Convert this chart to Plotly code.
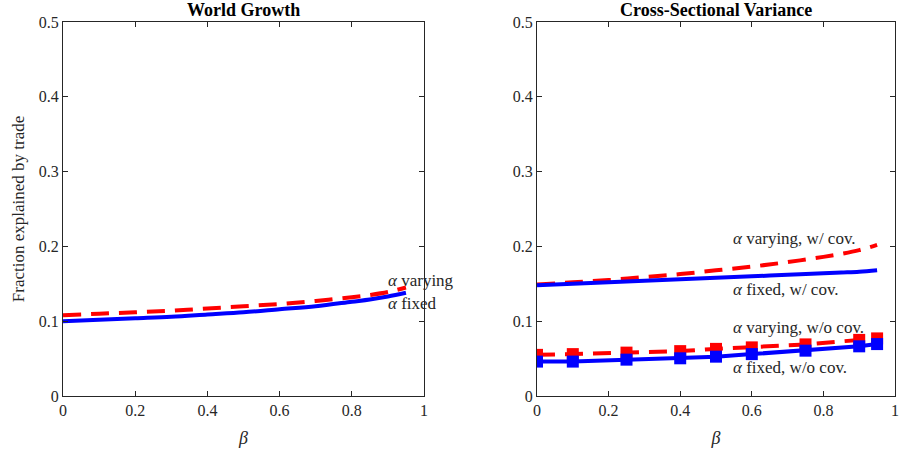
import plotly.graph_objects as go

# ---- data ----
beta_fine = [0, 0.1, 0.2, 0.3, 0.4, 0.5, 0.6, 0.7, 0.8, 0.85, 0.9, 0.95]
wg_fixed = [0.100, 0.102, 0.104, 0.106, 0.109, 0.112, 0.116, 0.120, 0.126, 0.129, 0.133, 0.138]
wg_varying = [0.108, 0.110, 0.112, 0.114, 0.117, 0.120, 0.123, 0.127, 0.132, 0.135, 0.139, 0.145]

cs_fixed_cov = [0.148, 0.150, 0.152, 0.154, 0.156, 0.158, 0.160, 0.162, 0.164, 0.165, 0.166, 0.168]
cs_varying_cov = [0.149, 0.152, 0.155, 0.159, 0.163, 0.168, 0.173, 0.179, 0.186, 0.190, 0.195, 0.202]

beta_mk = [0, 0.1, 0.25, 0.4, 0.5, 0.6, 0.75, 0.9, 0.95]
cs_fixed_nocov = [0.046, 0.046, 0.0486, 0.0504, 0.0526, 0.056, 0.0606, 0.0664, 0.0694]
cs_varying_nocov = [0.055, 0.056, 0.058, 0.060, 0.063, 0.065, 0.069, 0.075, 0.077]

titles = ["World Growth", "Cross-Sectional Variance"]
ylabel = "Fraction explained by trade"
xlabel = "<i>β</i>"
xticks = [0, 0.2, 0.4, 0.6, 0.8, 1]
xticklabels = ["0", "0.2", "0.4", "0.6", "0.8", "1"]
yticks = [0, 0.1, 0.2, 0.3, 0.4, 0.5]
yticklabels = ["0", "0.1", "0.2", "0.3", "0.4", "0.5"]

FONT = "Liberation Serif"
BLUE = "#0000ff"
RED = "#ff0000"
AX = "#262626"
DASH = "18px,10px"

fig = go.Figure()

# left panel
fig.add_trace(go.Scatter(x=beta_fine, y=wg_fixed, mode="lines", line_shape="spline",
                         line=dict(color=BLUE, width=4), xaxis="x", yaxis="y"))
fig.add_trace(go.Scatter(x=beta_fine, y=wg_varying, mode="lines", line_shape="spline",
                         line=dict(color=RED, width=4, dash=DASH), xaxis="x", yaxis="y"))

# right panel
fig.add_trace(go.Scatter(x=beta_fine, y=cs_varying_cov, mode="lines", line_shape="spline",
                         line=dict(color=RED, width=4, dash=DASH), xaxis="x2", yaxis="y2"))
fig.add_trace(go.Scatter(x=beta_fine, y=cs_fixed_cov, mode="lines", line_shape="spline",
                         line=dict(color=BLUE, width=4), xaxis="x2", yaxis="y2"))
fig.add_trace(go.Scatter(x=beta_mk, y=cs_varying_nocov, mode="lines+markers",
                         line=dict(color=RED, width=4, dash=DASH),
                         marker=dict(symbol="square", size=12, color=RED),
                         xaxis="x2", yaxis="y2"))
fig.add_trace(go.Scatter(x=beta_mk, y=cs_fixed_nocov, mode="lines+markers",
                         line=dict(color=BLUE, width=4),
                         marker=dict(symbol="square", size=12, color=BLUE),
                         xaxis="x2", yaxis="y2"))

tickfont = dict(family=FONT, size=16, color=AX)
axis_common = dict(range=[0, 1], tickvals=xticks, ticktext=xticklabels,
                   ticks="inside", ticklen=5, tickcolor=AX, showline=True,
                   linecolor=AX, linewidth=1, mirror="ticks", showgrid=False,
                   zeroline=False, automargin=False, tickfont=tickfont,
                   ticklabeloverflow="allow")
yaxis_common = dict(range=[0, 0.5], tickvals=yticks, ticktext=yticklabels,
                    ticks="inside", ticklen=5, tickcolor=AX, showline=True,
                    linecolor=AX, linewidth=1, mirror="ticks", showgrid=False,
                    zeroline=False, automargin=False, tickfont=tickfont)

y_dom = [55 / 451, 429 / 451]
fig.update_layout(
    width=900, height=451,
    margin=dict(l=0, r=0, t=0, b=0),
    paper_bgcolor="white", plot_bgcolor="white",
    showlegend=False,
    xaxis=dict(domain=[63 / 900, 424 / 900], anchor="y",
               title=dict(text=xlabel, font=dict(family=FONT, size=18, color=AX), standoff=13),
               **axis_common),
    yaxis=dict(domain=y_dom, anchor="x",
               title=dict(text=ylabel, font=dict(family=FONT, size=17, color=AX), standoff=9),
               **yaxis_common),
    xaxis2=dict(domain=[537 / 900, 895 / 900], anchor="y2",
                title=dict(text=xlabel, font=dict(family=FONT, size=18, color=AX), standoff=13),
                **axis_common),
    yaxis2=dict(domain=y_dom, anchor="x2", **yaxis_common),
)

ann = []
for i, t in enumerate(titles):
    xr = "x domain" if i == 0 else "x2 domain"
    ann.append(dict(text="<b>" + t + "</b>", xref=xr, yref="paper", x=0.5,
                    y=(451 - 10) / 451, yanchor="middle", showarrow=False,
                    font=dict(family=FONT, size=18, color="black")))

labels = [
    ("x", "y", 0.895, 0.155, "<i>α</i> varying"),
    ("x", "y", 0.895, 0.124, "<i>α</i> fixed"),
    ("x2", "y2", 0.543, 0.210, "<i>α</i> varying, w/ cov."),
    ("x2", "y2", 0.543, 0.142, "<i>α</i> fixed, w/ cov."),
    ("x2", "y2", 0.543, 0.091, "<i>α</i> varying, w/o cov."),
    ("x2", "y2", 0.543, 0.038, "<i>α</i> fixed, w/o cov."),
]
for xr, yr, x, y, t in labels:
    ann.append(dict(text=t, xref=xr, yref=yr, x=x, y=y, xanchor="left",
                    yanchor="middle", showarrow=False,
                    font=dict(family=FONT, size=17, color=AX)))
fig.update_layout(annotations=ann)

fig.write_html("out.html", config={"displayModeBar": False},
               post_script="document.body.style.margin='0';document.body.style.padding='0';")
